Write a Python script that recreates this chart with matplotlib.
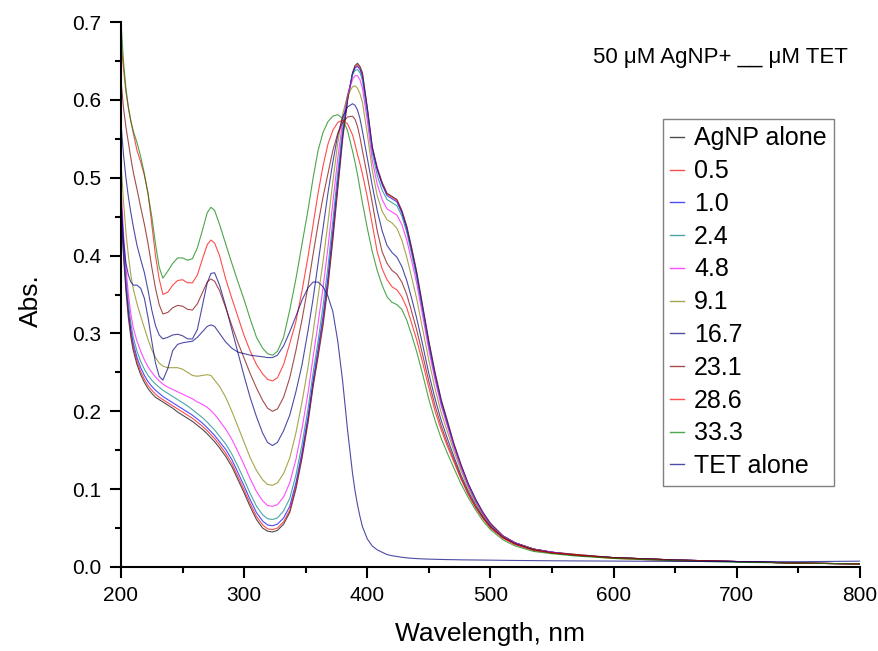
import matplotlib
matplotlib.use('Agg')
import matplotlib.pyplot as plt
from matplotlib.ticker import MultipleLocator, FormatStrFormatter

plt.rcParams['font.family'] = ['Liberation Sans', 'DejaVu Sans']

# wavelength grid (nm)
wavelength = [200, 202, 204, 206, 208, 210, 213, 216, 219, 222, 225, 228,
              231, 234, 238, 242, 246, 250, 254, 258, 262, 266, 270, 273,
              276, 280, 285, 290, 295, 300, 305, 310, 315, 319, 323, 327,
              332, 337, 342, 347, 352, 356, 360, 364, 368, 372, 376, 380,
              384, 388, 390, 392, 394, 396, 400, 404, 408, 412, 416, 420, 424, 428,
              432, 436, 440, 445, 450, 455, 460, 465, 470, 476, 482, 488,
              494, 500, 510, 520, 535, 550, 570, 600, 650, 700, 750, 800]

agnp_alone = [0.460, 0.400, 0.355, 0.320, 0.295, 0.278, 0.260, 0.247, 0.237, 0.229, 0.223, 0.218,
              0.215, 0.212, 0.208, 0.204, 0.199, 0.195, 0.191, 0.187, 0.182, 0.177, 0.171, 0.166,
              0.161, 0.153, 0.142, 0.129, 0.112, 0.095, 0.077, 0.061, 0.050, 0.046, 0.045, 0.047,
              0.055, 0.070, 0.100, 0.140, 0.187, 0.232, 0.270, 0.310, 0.360, 0.420, 0.485, 0.550,
              0.600, 0.635, 0.644, 0.647, 0.643, 0.635, 0.590, 0.540, 0.513, 0.494, 0.480, 0.476, 0.472, 0.458,
              0.438, 0.410, 0.380, 0.335, 0.290, 0.250, 0.215, 0.188, 0.160, 0.132, 0.107, 0.087,
              0.070, 0.056, 0.040, 0.031, 0.023, 0.019, 0.016, 0.012, 0.009, 0.007, 0.005, 0.004]

tet_0_5 = [0.465, 0.405, 0.360, 0.325, 0.300, 0.282, 0.264, 0.251, 0.241, 0.233, 0.227, 0.222,
           0.218, 0.215, 0.211, 0.207, 0.203, 0.199, 0.195, 0.191, 0.186, 0.181, 0.175, 0.170,
           0.165, 0.157, 0.146, 0.133, 0.116, 0.099, 0.081, 0.065, 0.054, 0.049, 0.048, 0.050,
           0.058, 0.073, 0.103, 0.143, 0.190, 0.235, 0.274, 0.315, 0.365, 0.425, 0.490, 0.553,
           0.600, 0.634, 0.642, 0.645, 0.641, 0.633, 0.589, 0.539, 0.512, 0.493, 0.479, 0.475, 0.471, 0.457,
           0.436, 0.408, 0.378, 0.333, 0.288, 0.248, 0.213, 0.186, 0.159, 0.131, 0.106, 0.086,
           0.069, 0.056, 0.040, 0.031, 0.023, 0.019, 0.016, 0.012, 0.009, 0.007, 0.005, 0.004]

tet_1_0 = [0.470, 0.410, 0.365, 0.330, 0.305, 0.287, 0.269, 0.256, 0.246, 0.238, 0.232, 0.227,
           0.223, 0.219, 0.215, 0.211, 0.207, 0.203, 0.199, 0.195, 0.190, 0.185, 0.179, 0.174,
           0.169, 0.161, 0.151, 0.138, 0.121, 0.104, 0.086, 0.070, 0.059, 0.054, 0.053, 0.055,
           0.063, 0.078, 0.108, 0.148, 0.195, 0.240, 0.280, 0.322, 0.372, 0.433, 0.497, 0.557,
           0.603, 0.634, 0.641, 0.643, 0.639, 0.630, 0.587, 0.537, 0.510, 0.491, 0.477, 0.473, 0.469, 0.455,
           0.434, 0.406, 0.376, 0.331, 0.286, 0.246, 0.212, 0.185, 0.158, 0.130, 0.106, 0.086,
           0.069, 0.055, 0.040, 0.031, 0.023, 0.019, 0.015, 0.012, 0.009, 0.007, 0.005, 0.004]

tet_2_4 = [0.475, 0.415, 0.372, 0.338, 0.313, 0.295, 0.277, 0.264, 0.254, 0.246, 0.240, 0.235,
           0.231, 0.227, 0.223, 0.219, 0.215, 0.211, 0.207, 0.202, 0.197, 0.192, 0.186, 0.181,
           0.176, 0.168, 0.158, 0.145, 0.129, 0.112, 0.094, 0.078, 0.067, 0.062, 0.061, 0.063,
           0.072, 0.088, 0.118, 0.158, 0.205, 0.250, 0.290, 0.335, 0.385, 0.445, 0.507, 0.563,
           0.605, 0.632, 0.638, 0.639, 0.635, 0.625, 0.582, 0.532, 0.503, 0.484, 0.472, 0.468, 0.464, 0.451,
           0.430, 0.402, 0.372, 0.328, 0.283, 0.244, 0.210, 0.183, 0.157, 0.129, 0.105, 0.085,
           0.068, 0.055, 0.040, 0.031, 0.023, 0.019, 0.015, 0.012, 0.009, 0.007, 0.005, 0.004]

tet_4_8 = [0.490, 0.430, 0.385, 0.350, 0.325, 0.307, 0.290, 0.277, 0.266, 0.257, 0.250, 0.244,
           0.239, 0.235, 0.231, 0.228, 0.225, 0.222, 0.219, 0.216, 0.212, 0.209, 0.205, 0.201,
           0.196, 0.188, 0.177, 0.164, 0.148, 0.131, 0.113, 0.097, 0.085, 0.079, 0.078, 0.080,
           0.090, 0.108, 0.138, 0.178, 0.225, 0.270, 0.313, 0.358, 0.410, 0.468, 0.525, 0.573,
           0.607, 0.626, 0.631, 0.631, 0.626, 0.615, 0.573, 0.522, 0.492, 0.472, 0.460, 0.456, 0.452, 0.440,
           0.420, 0.393, 0.365, 0.322, 0.278, 0.240, 0.207, 0.181, 0.155, 0.128, 0.104, 0.084,
           0.068, 0.054, 0.040, 0.031, 0.023, 0.019, 0.015, 0.012, 0.009, 0.007, 0.005, 0.004]

tet_9_1 = [0.520, 0.470, 0.430, 0.400, 0.375, 0.357, 0.338, 0.322, 0.307, 0.292, 0.279, 0.269,
           0.262, 0.258, 0.256, 0.256, 0.256, 0.254, 0.250, 0.246, 0.245, 0.246, 0.247, 0.246,
           0.240, 0.232, 0.218, 0.200, 0.180, 0.160, 0.140, 0.124, 0.112, 0.106, 0.105, 0.108,
           0.120, 0.140, 0.172, 0.212, 0.258, 0.302, 0.347, 0.392, 0.442, 0.495, 0.545, 0.582,
           0.606, 0.617, 0.618, 0.615, 0.608, 0.597, 0.556, 0.510, 0.477, 0.457, 0.446, 0.442, 0.435, 0.420,
           0.398, 0.372, 0.345, 0.305, 0.265, 0.229, 0.198, 0.174, 0.150, 0.124, 0.101, 0.082,
           0.066, 0.053, 0.039, 0.030, 0.023, 0.018, 0.015, 0.012, 0.009, 0.007, 0.005, 0.004]

tet_16_7 = [0.570, 0.530, 0.500, 0.475, 0.455, 0.437, 0.413, 0.395, 0.378, 0.355, 0.330, 0.310,
            0.298, 0.293, 0.295, 0.298, 0.299, 0.297, 0.293, 0.293, 0.305, 0.335, 0.365, 0.377,
            0.378, 0.362, 0.335, 0.305, 0.275, 0.245, 0.217, 0.193, 0.172, 0.160, 0.156, 0.160,
            0.175, 0.195, 0.225, 0.260, 0.305, 0.345, 0.390, 0.435, 0.480, 0.520, 0.555, 0.578,
            0.591, 0.595, 0.593, 0.587, 0.576, 0.560, 0.525, 0.490, 0.458, 0.432, 0.413, 0.404, 0.398, 0.386,
            0.368, 0.345, 0.320, 0.285, 0.248, 0.216, 0.188, 0.165, 0.143, 0.118, 0.097, 0.079,
            0.064, 0.052, 0.038, 0.030, 0.022, 0.018, 0.015, 0.012, 0.009, 0.007, 0.005, 0.004]

tet_23_1 = [0.625, 0.590, 0.565, 0.545, 0.525, 0.507, 0.485, 0.462, 0.440, 0.415, 0.385, 0.358,
            0.337, 0.325, 0.327, 0.333, 0.336, 0.335, 0.331, 0.330, 0.338, 0.352, 0.366, 0.370,
            0.367, 0.355, 0.333, 0.310, 0.288, 0.268, 0.248, 0.230, 0.214, 0.204, 0.200, 0.203,
            0.218, 0.243, 0.278, 0.318, 0.362, 0.402, 0.440, 0.475, 0.505, 0.535, 0.557, 0.571,
            0.578, 0.579, 0.575, 0.566, 0.552, 0.535, 0.502, 0.468, 0.432, 0.405, 0.390, 0.381, 0.376, 0.366,
            0.350, 0.328, 0.305, 0.272, 0.238, 0.207, 0.181, 0.159, 0.139, 0.115, 0.094, 0.077,
            0.063, 0.051, 0.038, 0.029, 0.022, 0.018, 0.015, 0.012, 0.009, 0.007, 0.005, 0.004]

tet_28_6 = [0.675, 0.640, 0.610, 0.590, 0.573, 0.557, 0.535, 0.520, 0.503, 0.480, 0.440, 0.400,
            0.370, 0.350, 0.353, 0.362, 0.368, 0.369, 0.365, 0.365, 0.375, 0.395, 0.414, 0.420,
            0.416, 0.400, 0.370, 0.345, 0.321, 0.297, 0.277, 0.260, 0.248, 0.241, 0.239, 0.243,
            0.260, 0.287, 0.315, 0.355, 0.400, 0.440, 0.480, 0.515, 0.543, 0.561, 0.571, 0.574,
            0.569, 0.555, 0.543, 0.530, 0.518, 0.505, 0.475, 0.440, 0.405, 0.383, 0.369, 0.360, 0.356, 0.347,
            0.333, 0.313, 0.292, 0.262, 0.230, 0.200, 0.176, 0.155, 0.136, 0.113, 0.093, 0.076,
            0.062, 0.050, 0.037, 0.029, 0.021, 0.018, 0.015, 0.011, 0.008, 0.007, 0.005, 0.004]

tet_33_3 = [0.700, 0.650, 0.615, 0.590, 0.572, 0.560, 0.545, 0.527, 0.505, 0.478, 0.450, 0.415,
            0.385, 0.371, 0.380, 0.390, 0.397, 0.397, 0.394, 0.396, 0.410, 0.432, 0.455, 0.462,
            0.458, 0.440, 0.415, 0.390, 0.366, 0.343, 0.318, 0.295, 0.281, 0.274, 0.272, 0.277,
            0.295, 0.330, 0.370, 0.415, 0.460, 0.500, 0.535, 0.558, 0.572, 0.579, 0.581, 0.576,
            0.560, 0.534, 0.520, 0.504, 0.486, 0.468, 0.435, 0.405, 0.381, 0.362, 0.347, 0.340, 0.337, 0.331,
            0.317, 0.298, 0.277, 0.247, 0.215, 0.188, 0.165, 0.146, 0.128, 0.107, 0.089, 0.073,
            0.059, 0.048, 0.035, 0.027, 0.020, 0.017, 0.014, 0.011, 0.008, 0.006, 0.005, 0.004]

tet_alone = [0.470, 0.420, 0.390, 0.375, 0.366, 0.362, 0.362, 0.358, 0.345, 0.320, 0.290, 0.262,
             0.245, 0.240, 0.255, 0.278, 0.286, 0.288, 0.289, 0.290, 0.295, 0.302, 0.309, 0.311,
             0.309, 0.300, 0.289, 0.281, 0.276, 0.274, 0.272, 0.271, 0.270, 0.269, 0.269, 0.272,
             0.284, 0.302, 0.322, 0.343, 0.359, 0.366, 0.366, 0.360, 0.348, 0.328, 0.290, 0.238,
             0.175, 0.120, 0.098, 0.080, 0.065, 0.052, 0.036, 0.027, 0.022, 0.019, 0.016, 0.0145, 0.0135, 0.0125,
             0.0118, 0.0112, 0.0108, 0.0104, 0.0101, 0.0099, 0.0097, 0.0095, 0.0094, 0.0092, 0.0091, 0.0090,
             0.0089, 0.0088, 0.0086, 0.0084, 0.0082, 0.0080, 0.0078, 0.0076, 0.0072, 0.0070, 0.0068, 0.0075]

series_labels = ['AgNP alone', '0.5', '1.0', '2.4', '4.8', '9.1',
                 '16.7', '23.1', '28.6', '33.3', 'TET alone']
series_values = [agnp_alone, tet_0_5, tet_1_0, tet_2_4, tet_4_8, tet_9_1,
                 tet_16_7, tet_23_1, tet_28_6, tet_33_3, tet_alone]
series_colors = ['#000000', '#FF0000', '#0000FF', '#008080', '#FF00FF', '#808000',
                 '#000080', '#800000', '#FF0000', '#008000', '#000080']

W, H = 879, 651
fig = plt.figure(figsize=(W / 100, H / 100), dpi=100)
ax = fig.add_axes([121 / W, 84 / H, 739 / W, 545 / H])

for vals, lab, col in zip(series_values, series_labels, series_colors):
    ax.plot(wavelength, vals, color=col, lw=0.8, alpha=0.7, label=lab)

ax.set_xlim(200, 800)
ax.set_ylim(0, 0.7)
ax.spines['top'].set_visible(False)
ax.spines['right'].set_visible(False)
for s in ('left', 'bottom'):
    ax.spines[s].set_linewidth(1.5)

ax.xaxis.set_major_locator(MultipleLocator(100))
ax.xaxis.set_minor_locator(MultipleLocator(50))
ax.yaxis.set_major_locator(MultipleLocator(0.1))
ax.yaxis.set_minor_locator(MultipleLocator(0.05))
ax.yaxis.set_major_formatter(FormatStrFormatter('%.1f'))
ax.tick_params(which='major', direction='out', length=8, width=1.5, labelsize=15, pad=6)
ax.tick_params(which='minor', direction='out', length=4.5, width=1.5)

ax.set_xlabel('Wavelength, nm', fontsize=19)
ax.set_ylabel('Abs.', fontsize=19)
ax.xaxis.set_label_coords(0.5, -0.10)
ax.yaxis.set_label_coords(-0.105, 0.488)

fig.text(848 / W, 1 - 57 / H, '50 \u03bcM AgNP+ __ \u03bcM TET', fontsize=16,
         ha='right', va='center')

leg = ax.legend(loc='upper left', bbox_to_anchor=(663 / W, 1 - 119 / H),
                bbox_transform=fig.transFigure, borderaxespad=0,
                fontsize=18, frameon=True, fancybox=False, framealpha=1,
                edgecolor='#808080', handlelength=0.55, handletextpad=0.4,
                labelspacing=0.35, borderpad=0.3)
leg.get_frame().set_linewidth(1.0)
for line in leg.get_lines():
    line.set_linewidth(1.0)

fig.savefig('out.png', dpi=100)
